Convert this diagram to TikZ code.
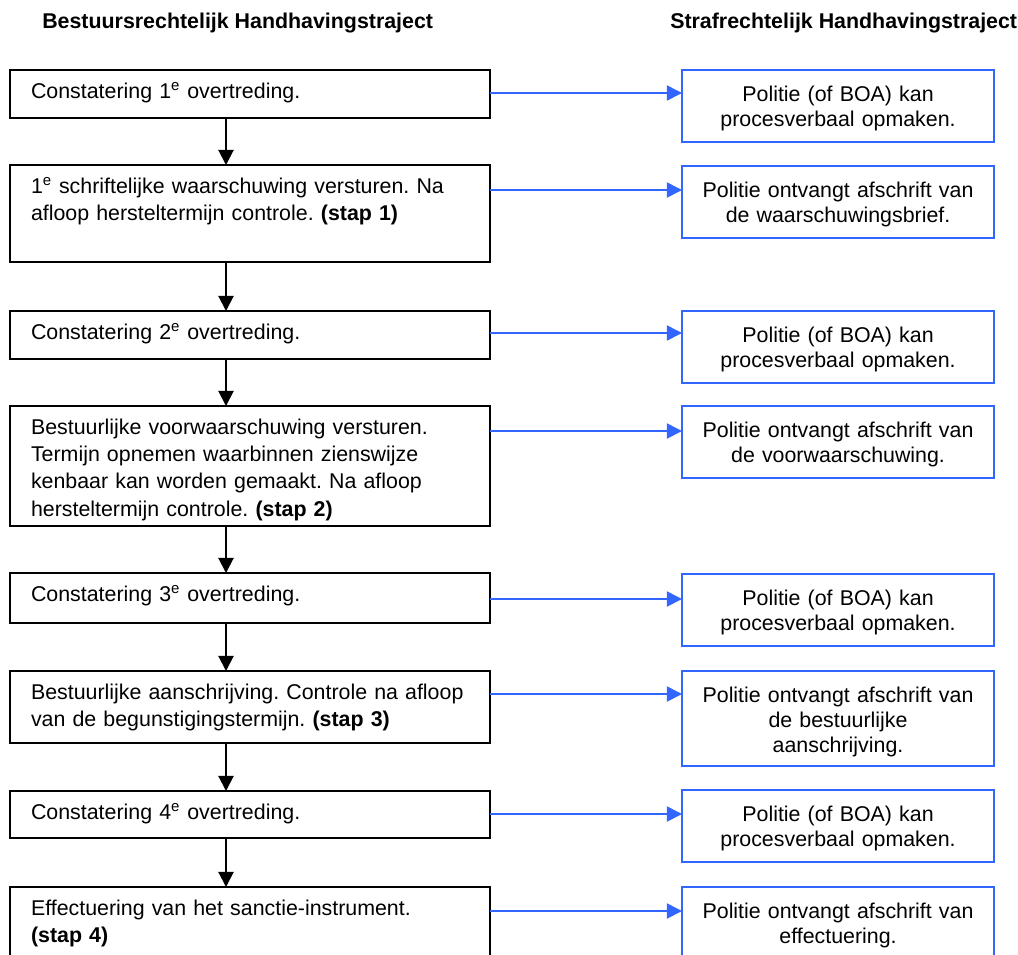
\documentclass[tikz,border=0pt]{standalone}
\usepackage{fontspec}
\setmainfont{Liberation Sans}
\usepackage{xcolor}
\usetikzlibrary{positioning}
\usetikzlibrary{arrows.meta}
\definecolor{meldblauw}{RGB}{51,102,255}
\tikzset{>={Triangle[length=0.38cm,width=0.38cm]}}
\tikzset{
  stapbox/.style={draw, line width=0.05cm, anchor=north west, outer sep=0pt, inner xsep=0.525cm, inner ysep=0pt, text width=10.95cm, align=left, text height=0.70cm, font=\fontsize{15.2}{19.5}\selectfont},
  politiebox/.style={draw=meldblauw, line width=0.05cm, anchor=north west, outer sep=0pt, inner xsep=0.3cm, inner ysep=0pt, text width=7.2cm, align=center, text height=0.78cm, font=\fontsize{15.2}{17.8}\selectfont},
  kop/.style={anchor=base west, inner sep=0pt, font=\fontsize{15.2}{17.8}\selectfont\bfseries},
  volg/.style={->, line width=0.05cm},
  meld/.style={->, draw=meldblauw, fill=meldblauw, line width=0.04cm}
}
\begin{document}
\frenchspacing
\begin{tikzpicture}[x=0.025cm, y=-0.025cm]
\useasboundingbox (0,0) rectangle (1018,954);
\clip (0,0) rectangle (1018,954);
\node[kop] (bestuur) at (42,28) {Bestuursrechtelijk Handhavingstraject};
\node[kop] (straf) at (670,28) {Strafrechtelijk Handhavingstraject};

\node[stapbox, text depth=0.5cm] (vaststel1) at (10,70) {Constatering 1\textsuperscript{e} overtreding.};
\node[stapbox, text depth=1.725cm] (waarsch) at (10,165) {1\textsuperscript{e} schriftelijke waarschuwing versturen. Na\\afloop hersteltermijn controle. \textbf{(stap 1)}};
\node[stapbox, text depth=0.5cm] (vaststel2) at (10,311) {Constatering 2\textsuperscript{e} overtreding.};
\node[stapbox, text depth=2.3cm] (voorwaarsch) at (10,406) {Bestuurlijke voorwaarschuwing versturen.\\Termijn opnemen waarbinnen zienswijze\\kenbaar kan worden gemaakt. Na afloop\\hersteltermijn controle. \textbf{(stap 2)}};
\node[stapbox, text depth=0.55cm] (vaststel3) at (10,573) {Constatering 3\textsuperscript{e} overtreding.};
\node[stapbox, text depth=1.1cm] (aanschr) at (10,671) {Bestuurlijke aanschrijving. Controle na afloop\\van de begunstigingstermijn. \textbf{(stap 3)}};
\node[stapbox, text depth=0.475cm] (vaststel4) at (10,791) {Constatering 4\textsuperscript{e} overtreding.};
\node[stapbox, text depth=1.8cm] (effect) at (10,887) {Effectuering van het sanctie-instrument.\\\textbf{(stap 4)}};

\node[politiebox, text depth=1.02cm] (pv1) at (682,70) {Politie (of BOA) kan\\procesverbaal opmaken.};
\node[politiebox, text depth=1.02cm] (afschr1) at (682,166) {Politie ontvangt afschrift van\\de waarschuwingsbrief.};
\node[politiebox, text depth=1.02cm] (pv2) at (682,311) {Politie (of BOA) kan\\procesverbaal opmaken.};
\node[politiebox, text depth=1.02cm] (afschr2) at (682,406) {Politie ontvangt afschrift van\\de voorwaarschuwing.};
\node[politiebox, text depth=1.02cm] (pv3) at (682,574) {Politie (of BOA) kan\\procesverbaal opmaken.};
\node[politiebox, text depth=1.595cm] (afschr3) at (682,671) {Politie ontvangt afschrift van\\de bestuurlijke\\aanschrijving.};
\node[politiebox, text depth=1.02cm] (pv4) at (682,790) {Politie (of BOA) kan\\procesverbaal opmaken.};
\node[politiebox, text depth=1.595cm] (afschr4) at (682,887) {Politie ontvangt afschrift van\\effectuering.};

\coordinate (pijl) at (226,0);
\draw[volg] (pijl |- vaststel1.south) -- (pijl |- waarsch.north);
\draw[volg] (pijl |- waarsch.south) -- (pijl |- vaststel2.north);
\draw[volg] (pijl |- vaststel2.south) -- (pijl |- voorwaarsch.north);
\draw[volg] (pijl |- voorwaarsch.south) -- (pijl |- vaststel3.north);
\draw[volg] (pijl |- vaststel3.south) -- (pijl |- aanschr.north);
\draw[volg] (pijl |- aanschr.south) -- (pijl |- vaststel4.north);
\draw[volg] (pijl |- vaststel4.south) -- (pijl |- effect.north);

\draw[meld] (vaststel1.north east) ++(0,23) coordinate (m1) -- (m1 -| pv1.west);
\draw[meld] (waarsch.north east) ++(0,25) coordinate (m2) -- (m2 -| afschr1.west);
\draw[meld] (vaststel2.north east) ++(0,22) coordinate (m3) -- (m3 -| pv2.west);
\draw[meld] (voorwaarsch.north east) ++(0,25) coordinate (m4) -- (m4 -| afschr2.west);
\draw[meld] (vaststel3.north east) ++(0,26) coordinate (m5) -- (m5 -| pv3.west);
\draw[meld] (aanschr.north east) ++(0,23) coordinate (m6) -- (m6 -| afschr3.west);
\draw[meld] (vaststel4.north east) ++(0,23) coordinate (m7) -- (m7 -| pv4.west);
\draw[meld] (effect.north east) ++(0,24) coordinate (m8) -- (m8 -| afschr4.west);
\end{tikzpicture}
\end{document}
